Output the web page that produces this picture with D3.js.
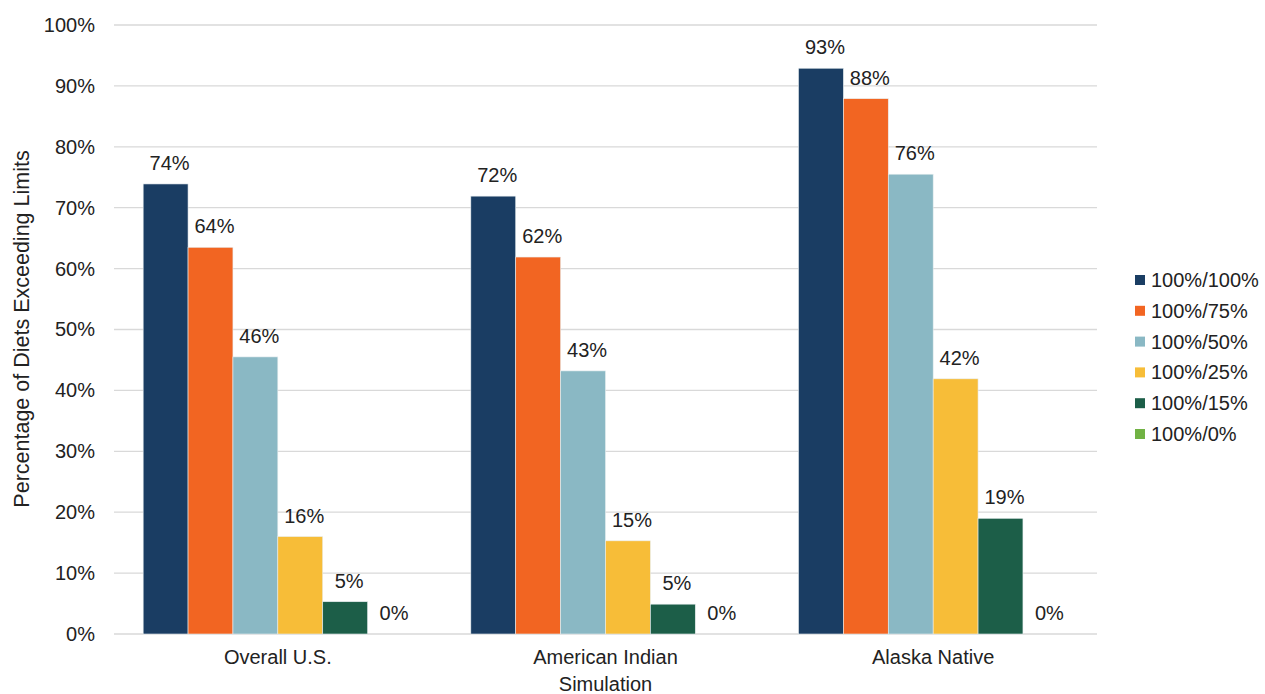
<!DOCTYPE html>
<html><head><meta charset="utf-8">
<script src="https://cdn.jsdelivr.net/npm/d3@7"></script>
<style>body{margin:0;background:#fff;font-family:"Liberation Sans",Arial,sans-serif;}</style>
</head><body><svg id="c" width="1265" height="694"></svg>
<script>
const categories = ["Overall U.S.", "American Indian", "Alaska Native"];
const seriesNames = ["100%/100%", "100%/75%", "100%/50%", "100%/25%", "100%/15%", "100%/0%"];
const colors = ["#1a3d63", "#f26522", "#8ab8c4", "#f7bd38", "#1c5e48", "#71b244"];
const s100 = [73.9, 71.9, 92.9];
const s75 = [63.5, 61.9, 87.9];
const s50 = [45.5, 43.2, 75.5];
const s25 = [16.0, 15.3, 41.9];
const s15 = [5.3, 4.9, 19.0];
const s0 = [0, 0, 0];
const seriesValues = [s100, s75, s50, s25, s15, s0];
const yTicks = [0,10,20,30,40,50,60,70,80,90,100];

const FS = 20;
const svg = d3.select("#c");
const m = {l:114, r:1097, t:25, b:634};
const x0 = d3.scaleBand().domain(categories).range([m.l, m.r]).paddingInner(0.178).paddingOuter(0.089);
const x1 = d3.scaleBand().domain(seriesNames).range([0, x0.bandwidth()]);
const y = d3.scaleLinear().domain([0,100]).range([m.b, m.t]);

svg.append("g").selectAll("line").data(yTicks).join("line")
  .attr("x1", m.l).attr("x2", m.r).attr("y1", d=>y(d)).attr("y2", d=>y(d))
  .attr("stroke", "#d9d9d9").attr("stroke-width", 1.3);

const yAxis = svg.append("g").attr("transform", `translate(${m.l},0)`)
  .call(d3.axisLeft(y).tickValues(yTicks).tickFormat(d=>d+"%").tickSize(0).tickPadding(19));
yAxis.select(".domain").remove();
yAxis.selectAll("text").attr("font-family","Liberation Sans, Arial, sans-serif").attr("font-size",FS).attr("fill","#222");

const xAxis = svg.append("g").attr("transform", `translate(0,${m.b})`)
  .call(d3.axisBottom(x0).tickSize(0).tickPadding(16));
xAxis.select(".domain").remove();
xAxis.selectAll("text").attr("font-family","Liberation Sans, Arial, sans-serif").attr("font-size",FS).attr("fill","#222");

const data = [];
categories.forEach((c,i)=>seriesNames.forEach((s,j)=>data.push({c, s, j, v: seriesValues[j][i]})));

svg.append("g").selectAll("rect").data(data).join("rect")
  .attr("x", d=>x0(d.c)+x1(d.s)).attr("width", x1.bandwidth())
  .attr("y", d=>y(d.v)).attr("height", d=>y(0)-y(d.v))
  .attr("fill", d=>colors[d.j]).attr("stroke", "#e8eef0").attr("stroke-width", 0.6);

svg.append("g").selectAll("text").data(data).join("text")
  .attr("x", d=>x0(d.c)+x1(d.s)+x1.bandwidth()/2+4)
  .attr("y", d=>y(d.v)-14)
  .attr("text-anchor","middle").attr("font-size",FS).attr("fill","#222")
  .text(d=>Math.round(d.v)+"%");

svg.append("text").attr("transform","translate(29,329) rotate(-90)")
  .attr("text-anchor","middle").attr("font-size",21.5).attr("fill","#222")
  .text("Percentage of Diets Exceeding Limits");
svg.append("text").attr("x",(m.l+m.r)/2).attr("y",691)
  .attr("text-anchor","middle").attr("font-size",FS).attr("fill","#222").text("Simulation");

const lg = svg.append("g").selectAll("g").data(seriesNames).join("g")
  .attr("transform",(d,i)=>`translate(1135,${280+i*30.8})`);
lg.append("rect").attr("x",0).attr("y",-5).attr("width",10).attr("height",10).attr("fill",(d,i)=>colors[i]);
lg.append("text").attr("x",16).attr("y",7).attr("font-size",FS).attr("fill","#222").text(d=>d);
</script></body></html>
